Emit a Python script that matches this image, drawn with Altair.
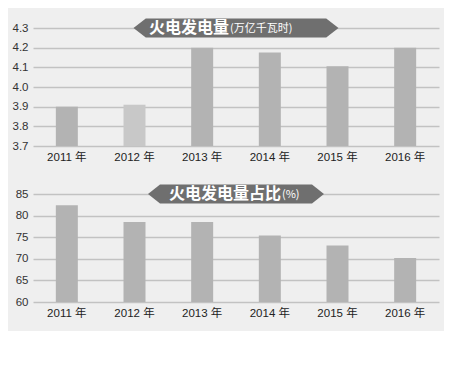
import altair as alt
import pandas as pd

# ---- data ----
years = ["2011 年", "2012 年", "2013 年", "2014 年", "2015 年", "2016 年"]
output_twh = [3.90, 3.91, 4.20, 4.175, 4.105, 4.20]          # 万亿千瓦时
share_pct = [82.4, 78.5, 78.5, 75.4, 73.1, 70.2]              # %
top_ticks = [3.7, 3.8, 3.9, 4.0, 4.1, 4.2, 4.3]
bottom_ticks = [60, 65, 70, 75, 80, 85]
top_title = ["火电发电量", "(万亿千瓦时)"]
bottom_title = ["火电发电量占比", "(%)"]

top_colors = ["#b3b3b3", "#c8c8c8", "#b3b3b3", "#b3b3b3", "#b3b3b3", "#b3b3b3"]
bottom_colors = ["#b3b3b3"] * 6

W = 406
H1 = 118
H2 = 108
FONT = "Liberation Sans, Noto Sans CJK SC, sans-serif"
CJK = "Noto Sans CJK SC, sans-serif"
BANNER = "#6f6f6f"

df1 = pd.DataFrame({"year": years, "v": output_twh, "c": top_colors})
df2 = pd.DataFrame({"year": years, "v": share_pct, "c": bottom_colors})


def hexagon(half_w, shoulder):
    # units: 1 unit = half banner height
    return (f"M{-half_w},0 L{-shoulder},-1 L{shoulder},-1 L{half_w},0 "
            f"L{shoulder},1 L{-shoulder},1 Z")


def panel(df, ticks, dom, fmt, h, titles, half_w, shoulder, split_x):
    x = alt.X("year:N", sort=years, title=None,
              scale=alt.Scale(paddingInner=0.67, paddingOuter=0.335),
              axis=alt.Axis(labelAngle=0, ticks=False, domain=False,
                            labelPadding=5, labelFontSize=11.5, labelColor="#222",
                            labelFont=FONT))
    y = alt.Y("v:Q", title=None,
              scale=alt.Scale(domain=dom, zero=False, nice=False),
              axis=alt.Axis(values=ticks, format=fmt, ticks=False, domain=False,
                            labelPadding=5, labelFontSize=11.5, labelColor="#333",
                            labelFont=FONT, grid=True, gridColor="#c2c2c2",
                            gridWidth=1.5))
    bars = alt.Chart(df).mark_bar(size=22).encode(
        x=x, y=y, y2=alt.Y2(datum=dom[0]), color=alt.Color("c:N", scale=None))

    tdf = pd.DataFrame({"main": [titles[0]], "sub": [titles[1]]})
    banner = alt.Chart(tdf).mark_point(
        shape=hexagon(half_w, shoulder), size=361, filled=True,
        fill=BANNER, opacity=1, strokeWidth=0
    ).encode(x=alt.value(W / 2), y=alt.value(0))
    main = alt.Chart(tdf).mark_text(
        align="right", baseline="middle", font=CJK, fontSize=16,
        fontWeight="bold", color="white"
    ).encode(x=alt.value(split_x), y=alt.value(0), text="main:N")
    sub = alt.Chart(tdf).mark_text(
        align="left", baseline="middle", font=CJK, fontSize=11,
        color="white", dx=1, dy=1
    ).encode(x=alt.value(split_x), y=alt.value(0), text="sub:N")

    return alt.layer(bars, banner, main, sub).properties(width=W, height=h)


top = panel(df1, top_ticks, [3.7, 4.3], ".1f", H1, top_title, 10.79, 9.5, 196)
bottom = panel(df2, bottom_ticks, [60, 85], "d", H2, bottom_title, 9.26, 8.0, 248)

chart = alt.vconcat(top, bottom, spacing=48, bounds="flush").properties(
    background="#efefef",
    padding={"left": 4, "top": 10, "right": 5, "bottom": 12},
).configure_view(stroke=None)

chart.save("out.html", embed_options={"renderer": "svg", "actions": False})
